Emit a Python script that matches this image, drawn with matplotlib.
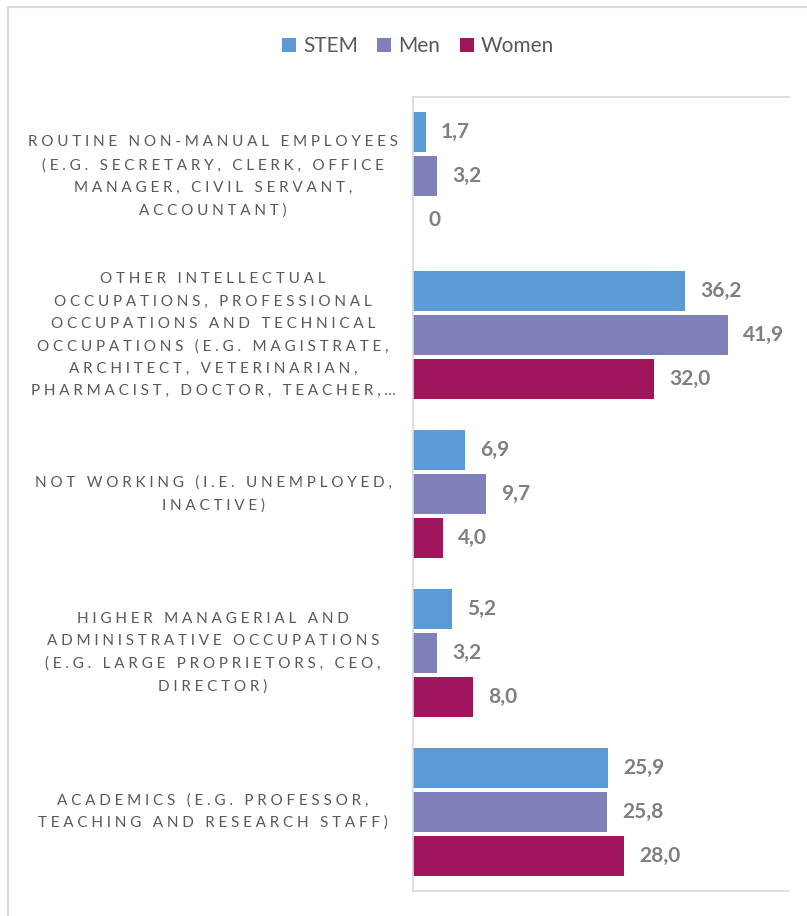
import matplotlib
matplotlib.use("Agg")
import matplotlib.pyplot as plt
from matplotlib.patches import Rectangle

# data, top to bottom as in the chart
categories = [
    "ROUTINE NON-MANUAL EMPLOYEES\n(E.G. SECRETARY, CLERK, OFFICE\nMANAGER, CIVIL SERVANT,\nACCOUNTANT)",
    "OTHER INTELLECTUAL\nOCCUPATIONS, PROFESSIONAL\nOCCUPATIONS AND TECHNICAL\nOCCUPATIONS (E.G. MAGISTRATE,\nARCHITECT, VETERINARIAN,\nPHARMACIST, DOCTOR, TEACHER,…",
    "NOT WORKING (I.E. UNEMPLOYED,\nINACTIVE)",
    "HIGHER MANAGERIAL AND\nADMINISTRATIVE OCCUPATIONS\n(E.G. LARGE PROPRIETORS, CEO,\nDIRECTOR)",
    "ACADEMICS (E.G. PROFESSOR,\nTEACHING AND RESEARCH STAFF)",
]
series_names = ["STEM", "Men", "Women"]
stem = [1.7, 36.2, 6.9, 5.2, 25.9]
men = [3.2, 41.9, 9.7, 3.2, 25.8]
women = [0.0, 32.0, 4.0, 8.0, 28.0]
colors = ["#5b9bd5", "#7f7fb9", "#a0155b"]

FONT = ["Lato", "DejaVu Sans"]
TXT = "#595959"
GRID = "#d9d9d9"


def spaced(s):
    # emulate the letter spacing of the original labels
    return "\n".join("\u2009\u2009".join(line) for line in s.split("\n"))


def fmt(v):
    return "0" if v == 0 else f"{v:.1f}".replace(".", ",")


W, H = 807, 916
fig = plt.figure(figsize=(W / 100, H / 100), dpi=100)
fig.patches.append(Rectangle((8 / W, -0.1), 1.2, 1 - 7 / H + 0.1,
                             transform=fig.transFigure, fill=False,
                             ec=GRID, lw=1.5))

ax = fig.add_axes([413 / W, 25 / H, 376 / W, 794 / H])
ax.set_xlim(0, 50)
ax.set_ylim(4.5, -0.5)
for side in ("left", "top", "bottom"):
    ax.spines[side].set_color(GRID)
    ax.spines[side].set_linewidth(1.2)
ax.spines["right"].set_visible(False)
ax.set_xticks([])
ax.set_yticks([])

step = 0.277
height = 0.252
ypos = list(range(len(categories)))
for k, (name, vals, c) in enumerate(zip(series_names, [stem, men, women], colors)):
    ys = [y + (k - 1) * step for y in ypos]
    ax.barh(ys, vals, height=height, color=c, label=name)
    for y, v in zip(ys, vals):
        ax.annotate(fmt(v), (v, y), xytext=(11, 0), textcoords="offset points",
                    ha="left", va="center", fontsize=15, fontweight="bold",
                    color="#7f7f7f", family=FONT)

for y, lab in zip(ypos, categories):
    yf = ax.transData.transform((0, y))[1] / H
    fig.text(213 / W, yf, spaced(lab), ha="center", va="center",
             multialignment="center", fontsize=11, color=TXT,
             family=FONT, linespacing=1.75)

leg = fig.legend(loc="center", bbox_to_anchor=(418 / W, 1 - 46 / H), ncol=3,
                 frameon=False, handlelength=0.65, handleheight=0.65,
                 handletextpad=0.35, columnspacing=0.95,
                 prop={"family": FONT, "size": 15})
for t in leg.get_texts():
    t.set_color(TXT)

fig.savefig("out.png", dpi=100)
